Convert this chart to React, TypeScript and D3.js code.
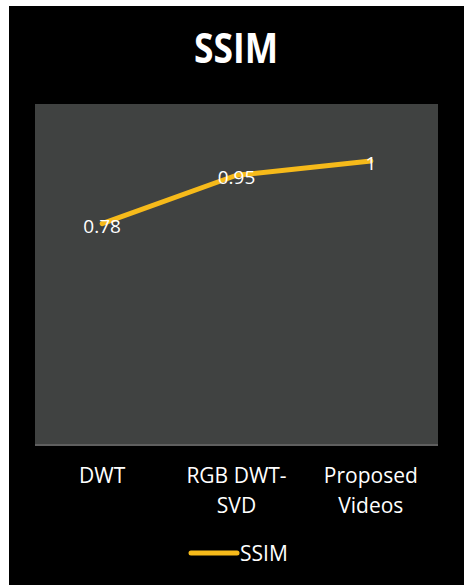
import React from "react";
import * as d3 from "d3";

const categories: string[][] = [["DWT"], ["RGB DWT-", "SVD"], ["Proposed", "Videos"]];
const categoryKeys = ["DWT", "RGB DWT-SVD", "Proposed Videos"];
const values = [0.78, 0.95, 1];
const valueLabels = ["0.78", "0.95", "1"];
const seriesName = "SSIM";
const title = "SSIM";

const W = 464;
const H = 586;
const FONT = "'Open Sans', sans-serif";
const GOLD = "#F6BA1A";

export default function App() {
  const plot = { left: 35, right: 438, top: 104, bottom: 446 };
  const x = d3.scalePoint<string>().domain(categoryKeys).range([plot.left, plot.right]).padding(0.5);
  const y = d3.scaleLinear().domain([0, 1.2]).range([plot.bottom, plot.top]);
  const line = d3
    .line<number>()
    .x((_, i) => x(categoryKeys[i]) as number)
    .y((d) => y(d));

  return (
    <svg width={W} height={H} style={{ position: "absolute", left: 0, top: 0, display: "block" }}>
      <rect x={0} y={0} width={W} height={H} fill="#ffffff" />
      <rect x={9} y={6} width={455} height={579} fill="#000000" />
      <text
        x={236}
        y={63}
        textAnchor="middle"
        fill="#ffffff"
        fontFamily={FONT}
        fontWeight="bold"
        fontSize={42}
        textLength={84}
        lengthAdjust="spacingAndGlyphs"
      >
        {title}
      </text>
      <rect
        x={plot.left}
        y={plot.top}
        width={plot.right - plot.left}
        height={plot.bottom - plot.top}
        fill="#404241"
      />
      <line x1={plot.left} x2={plot.right} y1={plot.bottom - 1} y2={plot.bottom - 1} stroke="#5f5f5f" strokeWidth={2} />
      <path d={line(values) || ""} fill="none" stroke={GOLD} strokeWidth={5} strokeLinecap="round" strokeLinejoin="round" />
      {values.map((v, i) => (
        <text
          key={i}
          x={x(categoryKeys[i]) as number}
          y={y(v) + 9}
          textAnchor="middle"
          fill="#ffffff"
          fontFamily={FONT}
          fontSize={19}
        >
          {valueLabels[i]}
        </text>
      ))}
      {categories.map((lines, i) => (
        <text key={i} textAnchor="middle" fill="#ffffff" fontFamily={FONT} fontSize={21}>
          {lines.map((l, j) => (
            <tspan key={j} x={x(categoryKeys[i]) as number} y={483 + j * 30}>
              {l}
            </tspan>
          ))}
        </text>
      ))}
      <line x1={191} x2={237} y1={553} y2={553} stroke={GOLD} strokeWidth={5} strokeLinecap="round" />
      <text x={240} y={561} fill="#ffffff" fontFamily={FONT} fontSize={21}>
        {seriesName}
      </text>
    </svg>
  );
}
